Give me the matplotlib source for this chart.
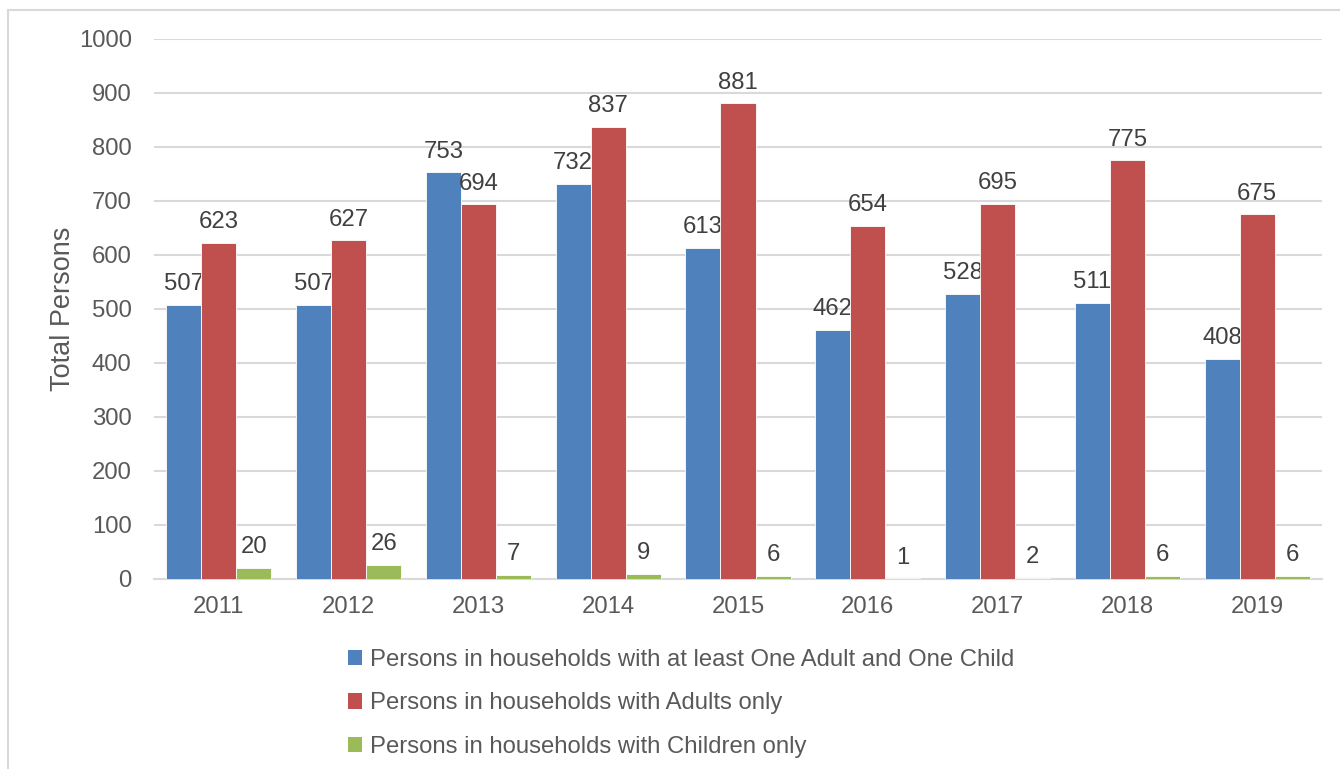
import matplotlib.pyplot as plt
import numpy as np
from matplotlib.patches import Patch, Rectangle

years = ['2011', '2012', '2013', '2014', '2015', '2016', '2017', '2018', '2019']
adult_child = [507, 507, 753, 732, 613, 462, 528, 511, 408]
adults_only = [623, 627, 694, 837, 881, 654, 695, 775, 675]
children_only = [20, 26, 7, 9, 6, 1, 2, 6, 6]

series_names = ['Persons in households with at least One Adult and One Child',
                'Persons in households with Adults only',
                'Persons in households with Children only']
colors = ['#4F81BD', '#C0504D', '#9BBB59']
text_color = '#595959'
grid_color = '#D9D9D9'

plt.rcParams['font.family'] = ['Liberation Sans', 'DejaVu Sans']
fs = 17.2

fig = plt.figure(figsize=(13.4, 7.69), dpi=100)
ax = fig.add_axes([0.1149, 0.2471, 0.8717, 0.7022])

# light frame around the chart area (runs off the right and bottom edges)
fig.patches.append(Rectangle((8 / 1340, -0.05), 1.2, 1 - 10 / 769 + 0.05,
                             transform=fig.transFigure, fill=False,
                             edgecolor=grid_color, linewidth=1.5))

x = np.arange(len(years))
w = 0.27
all_series = [adult_child, adults_only, children_only]
for i, (vals, col) in enumerate(zip(all_series, colors)):
    bars = ax.bar(x + (i - 1) * w, vals, width=w, color=col, edgecolor='white', linewidth=0.6, zorder=3)
    for b, v in zip(bars, vals):
        ax.annotate(str(v), (b.get_x() + b.get_width() / 2, v), xytext=(0, 7),
                    textcoords='offset points', ha='center', va='bottom',
                    fontsize=fs, color='#404040')

ax.set_xlim(-0.5, len(years) - 0.5)
ax.set_ylim(0, 1000)
ax.set_yticks(np.arange(0, 1001, 100))
ax.set_xticks(x)
ax.set_xticklabels(years)
ax.tick_params(axis='both', length=0, labelsize=fs, labelcolor=text_color)
ax.tick_params(axis='y', pad=16)
ax.tick_params(axis='x', pad=12)
ax.grid(axis='y', color=grid_color, linewidth=1.5, zorder=0)
for s in ['top', 'right', 'left']:
    ax.spines[s].set_visible(False)
ax.spines['bottom'].set_color(grid_color)
ax.spines['bottom'].set_linewidth(1.5)
ax.set_ylabel('Total Persons', fontsize=19.5, color=text_color, labelpad=2)

handles = [Patch(facecolor=c, edgecolor='none') for c in colors]
fig.legend(handles, series_names, loc='upper left',
           bbox_to_anchor=(348 / 1340, 1 - 649 / 769), frameon=False,
           fontsize=fs, labelcolor=text_color, handlelength=0.6, handleheight=0.6,
           handletextpad=0.3, labelspacing=0.9, borderpad=0, borderaxespad=0)

fig.savefig('out.png', dpi=100)
